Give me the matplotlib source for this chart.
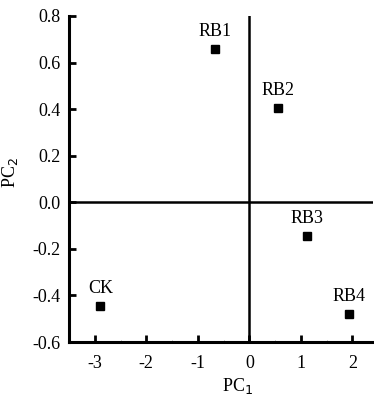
import matplotlib.pyplot as plt
from matplotlib.ticker import MultipleLocator

plt.rcParams['font.family'] = ['Liberation Serif', 'DejaVu Serif']

# PCA scores
names = ['CK', 'RB1', 'RB2', 'RB3', 'RB4']
pc1 = [-2.89, -0.66, 0.56, 1.12, 1.93]
pc2 = [-0.447, 0.658, 0.403, -0.145, -0.479]

fig = plt.figure(figsize=(3.74, 3.98), dpi=100)
ax = fig.add_axes([0.1845, 0.1407, 0.813, 0.8193])

ax.plot(pc1, pc2, 's', color='black', markersize=5.5)
for n, x, y in zip(names, pc1, pc2):
    ax.annotate(n, (x, y), xytext=(0, 6.5), textcoords='offset points',
                ha='center', va='bottom', fontsize=13)

# axes through the origin
ax.axhline(0, color='black', linewidth=1.8)
ax.axvline(0, color='black', linewidth=1.8)

ax.set_xlim(-3.5, 2.4)
ax.set_ylim(-0.6, 0.8)
ax.xaxis.set_minor_locator(MultipleLocator(0.5))
ax.set_yticks([-0.6, -0.4, -0.2, 0.0, 0.2, 0.4, 0.6, 0.8])
ax.set_yticklabels(['-0.6', '-0.4', '-0.2', '0.0', '0.2', '0.4', '0.6', '0.8'])
ax.set_xticks([-3, -2, -1, 0, 1, 2])
ax.set_xticklabels(['-3', '-2', '-1', '0', '1', '2'])

for s in ['top', 'right']:
    ax.spines[s].set_visible(False)
for s in ['left', 'bottom']:
    ax.spines[s].set_linewidth(2.2)

ax.tick_params(which='major', direction='in', length=5, width=2, labelsize=13, pad=6)
ax.tick_params(axis='x', which='major', pad=9)
ax.tick_params(which='minor', direction='in', length=1.5, width=0.5, colors='gray')
ax.tick_params(axis='y', which='minor', length=0)

ax.set_xlabel('PC$_1$', fontsize=13)
ax.set_ylabel('PC$_2$', fontsize=13)
ax.xaxis.set_label_coords(0.553, -0.105)
ax.yaxis.set_label_coords(-0.16, 0.52)

fig.savefig('out.png', dpi=100)
